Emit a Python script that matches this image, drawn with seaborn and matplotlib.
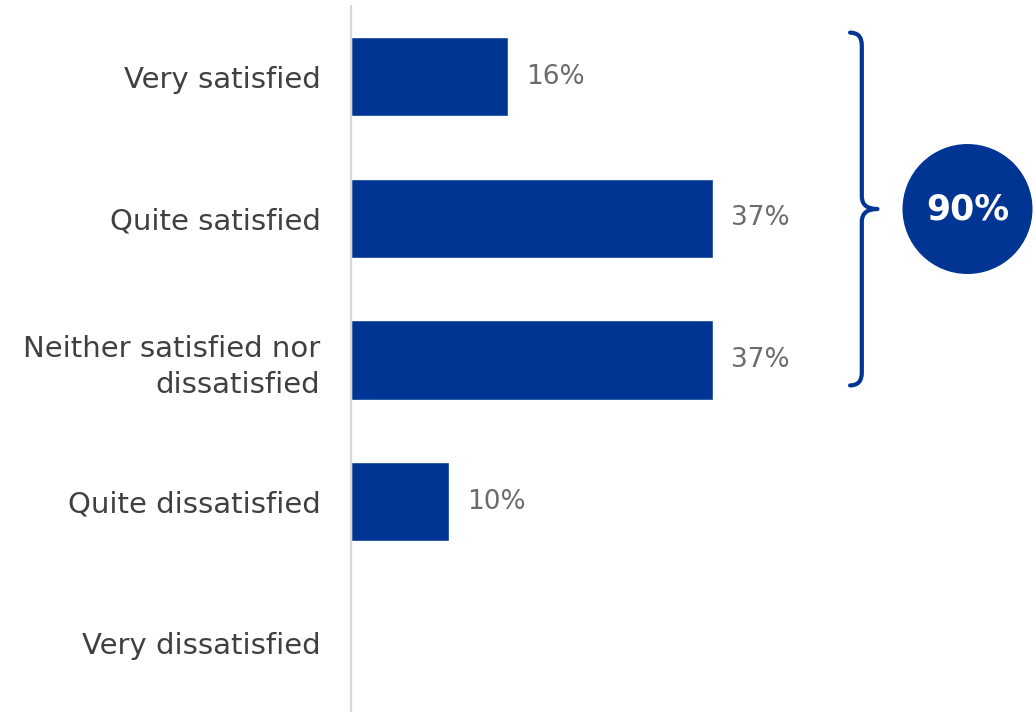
import matplotlib
matplotlib.use("Agg")
import matplotlib.pyplot as plt
from matplotlib.path import Path
from matplotlib.patches import PathPatch
import seaborn as sns
import pandas as pd

# Survey responses and their share of respondents
categories = ["Very satisfied", "Quite satisfied", "Neither satisfied nor\ndissatisfied",
              "Quite dissatisfied", "Very dissatisfied"]
shares = [16, 37, 37, 10, 0]
value_labels = ["16%", "37%", "37%", "10%", ""]
# Responses grouped by the brace and the total shown in the circle
grouped = [0, 1, 2]
group_total_label = f"{sum(shares[i] for i in grouped)}%"

BLUE = "#003594"
LABEL_GREY = "#404040"
VALUE_GREY = "#6b6b6b"

sns.set_theme(style="white")
plt.rcParams["font.family"] = ["DejaVu Sans"]

df = pd.DataFrame({"category": categories, "share": shares})

fig = plt.figure(figsize=(10.36, 7.12), dpi=100)
ax = fig.add_axes([351 / 1036, -0.003, 1 - 351 / 1036, 0.995])

sns.barplot(data=df, x="share", y="category", orient="h", color=BLUE,
            saturation=1, width=0.56, ax=ax)

ax.set_xlim(0, 70.0)
ax.set_ylim(4.5, -0.5)
ax.set_xlabel("")
ax.set_ylabel("")
ax.set_xticks([])
for side in ["top", "right", "bottom"]:
    ax.spines[side].set_visible(False)
ax.spines["left"].set_color("#d9d9d9")
ax.spines["left"].set_linewidth(1.6)
ax.tick_params(axis="y", length=0, pad=22, labelsize=21, labelcolor=LABEL_GREY)
for lbl in ax.get_yticklabels():
    lbl.set_linespacing(1.35)

for i, (v, txt) in enumerate(zip(shares, value_labels)):
    if txt:
        ax.annotate(txt, xy=(v, i), xytext=(13, 0), textcoords="offset points",
                    ha="left", va="center", fontsize=19, color=VALUE_GREY)

# Curly brace spanning the grouped responses
y_top, y_bot = min(grouped) - 0.31, max(grouped) + 0.18
y_mid = (y_top + y_bot) / 2
x_end, x_stem, x_tip = 51.0, 52.2, 53.8
r = 0.09
verts = [
    (x_end, y_top), (x_stem, y_top), (x_stem, y_top + r),
    (x_stem, y_mid - r),
    (x_stem, y_mid), (x_tip, y_mid),
    (x_stem, y_mid), (x_stem, y_mid + r),
    (x_stem, y_bot - r),
    (x_stem, y_bot), (x_end, y_bot),
]
codes = [Path.MOVETO, Path.CURVE3, Path.CURVE3, Path.LINETO,
         Path.CURVE3, Path.CURVE3, Path.CURVE3, Path.CURVE3,
         Path.LINETO, Path.CURVE3, Path.CURVE3]
ax.add_patch(PathPatch(Path(verts, codes), facecolor="none", edgecolor=BLUE,
                       linewidth=3.0, capstyle="round", joinstyle="round", clip_on=False))

# Total badge
cx, cy = 63.0, y_mid
ax.scatter([cx], [cy], s=93.6 ** 2, color=BLUE, edgecolors="none", clip_on=False, zorder=5)
ax.text(cx, cy, group_total_label, ha="center", va="center", color="white",
        fontsize=25, fontweight="bold", zorder=6, clip_on=False)

fig.savefig("out.png", dpi=100)
